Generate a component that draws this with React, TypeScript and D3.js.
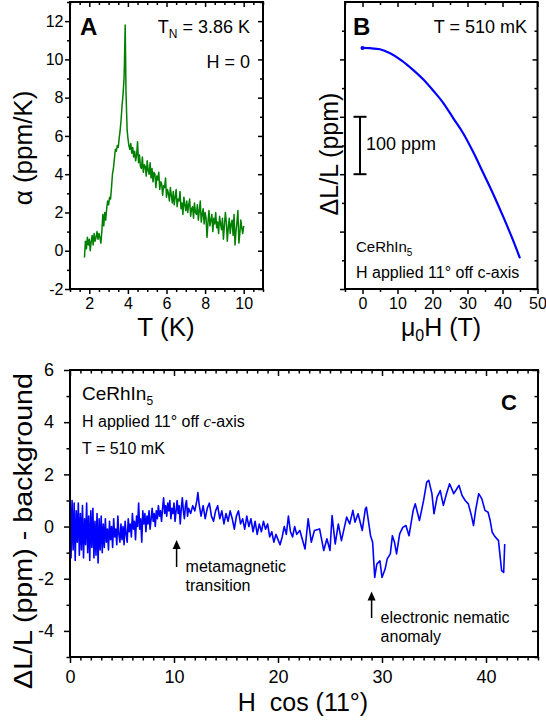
import React, { useRef, useEffect } from "react";
import * as d3 from "d3";

// ---- panel A: thermal expansion at H = 0 ----
const tempA = [
  1.75, 1.8, 1.85, 1.9, 1.95, 2.0, 2.05, 2.1, 2.15, 2.2, 2.25, 2.3, 2.35, 2.4, 2.45, 2.5, 2.55, 2.6, 2.65, 2.7,
  2.75, 2.8, 2.85, 2.9, 2.95, 3.0, 3.05, 3.1, 3.15, 3.2, 3.25, 3.3, 3.35, 3.4, 3.45, 3.5, 3.55, 3.6, 3.65, 3.7,
  3.75, 3.8, 3.82, 3.84, 3.86, 3.88, 3.9, 3.93, 3.96, 4.0, 4.05, 4.1, 4.15, 4.2, 4.25, 4.3, 4.35, 4.4, 4.45, 4.5,
  4.55, 4.6, 4.65, 4.7, 4.75, 4.8, 4.85, 4.9, 4.95, 5.0, 5.05, 5.1, 5.15, 5.2, 5.25, 5.3, 5.35, 5.4, 5.45, 5.5,
  5.55, 5.6, 5.65, 5.7, 5.75, 5.8, 5.85, 5.9, 5.95, 6.0, 6.05, 6.1, 6.15, 6.2, 6.25, 6.3, 6.35, 6.4, 6.45, 6.5,
  6.55, 6.6, 6.65, 6.7, 6.75, 6.8, 6.85, 6.9, 6.95, 7.0, 7.05, 7.1, 7.15, 7.2, 7.25, 7.3, 7.35, 7.4, 7.45, 7.5,
  7.55, 7.6, 7.65, 7.7, 7.75, 7.8, 7.85, 7.9, 7.95, 8.0, 8.05, 8.1, 8.15, 8.2, 8.25, 8.3, 8.35, 8.4, 8.45, 8.5,
  8.55, 8.6, 8.65, 8.7, 8.75, 8.8, 8.85, 8.9, 8.95, 9.0, 9.05, 9.1, 9.15, 9.2, 9.25, 9.3, 9.35, 9.4, 9.45, 9.5,
  9.55, 9.6, 9.65, 9.7, 9.75, 9.8, 9.85, 9.9, 9.95, 10.0,
];
const alphaA = [
  -0.35, 0.5, 0.1, 0.7, 0.3, 0.6, 0.0, 0.5, 0.8, 0.3, 0.9, 0.5, 0.7, 1.0, 0.6, 0.9, 0.7, 0.4, 1.0, 1.9,
  1.3, 2.0, 1.6, 2.2, 2.6, 2.4, 2.8, 2.7, 3.3, 4.0, 4.3, 4.8, 5.3, 5.2, 5.5, 5.4, 5.9, 6.3, 6.9, 7.6,
  8.2, 9.0, 9.8, 10.8, 11.8, 10.2, 8.4, 7.3, 6.3, 5.9, 5.5, 5.3, 5.6, 5.1, 5.4, 4.9, 5.2, 4.7, 5.0, 5.7,
  4.6, 5.0, 4.4, 4.3, 4.9, 4.1, 4.5, 4.4, 3.9, 4.7, 4.2, 4.0, 4.6, 3.8, 4.3, 3.6, 4.1, 4.0, 3.3, 3.9,
  3.7, 4.1, 3.2, 3.6, 3.5, 2.9, 3.4, 3.3, 3.8, 2.8, 3.2, 3.0, 2.6, 3.3, 2.9, 2.5, 3.1, 2.4, 2.8, 3.2,
  2.3, 2.7, 2.6, 3.1, 2.2, 2.5, 1.9, 2.8, 2.4, 2.1, 2.6, 2.0, 2.4, 2.7, 1.8, 2.2, 2.3, 1.7, 2.5, 2.0,
  1.9, 2.4, 1.6, 2.1, 2.6, 1.5, 1.9, 2.2, 1.4, 2.0, 1.7, 0.7, 1.5, 2.1, 1.3, 1.6, 1.9, 1.0, 1.7, 1.4,
  2.0, 1.2, 1.5, 0.9, 1.8, 1.4, 1.1, 1.7, 0.6, 1.3, 2.0, 1.5, 0.5, 1.2, 1.7, 0.9, 1.4, 1.6, 0.8, 1.9,
  0.3, 1.0, 1.5, 2.1, 0.4, 0.9, 1.6, 1.2, 0.9, 1.3,
];

// ---- panel B: magnetostriction, T = 510 mK ----
const fieldB = [0, 2.2, 5, 7.9, 11.2, 14.6, 17.4, 20.3, 23.1, 26, 28.8, 31.6, 34.5, 37.3, 40.2, 43, 44.9];
const strainB = [0, -0.5, -2.4, -9.4, -22, -39, -55, -75, -96, -123, -149, -181, -218, -254, -294, -335, -365];
const scaleBarB = [-120, -220]; // 100 ppm

// ---- panel C: background subtracted ----
const fieldC = [
  0.0, 0.1, 0.2, 0.3, 0.4, 0.5, 0.6, 0.7, 0.8, 0.9, 1.0, 1.1, 1.2, 1.3, 1.4, 1.5, 1.6, 1.7, 1.8, 1.9,
  2.0, 2.1, 2.2, 2.3, 2.4, 2.5, 2.6, 2.7, 2.8, 2.9, 3.0, 3.1, 3.2, 3.3, 3.4, 3.5, 3.6, 3.7, 3.8, 3.9,
  4.0, 4.1, 4.2, 4.3, 4.4, 4.5, 4.6, 4.7, 4.8, 4.9, 5.0, 5.1, 5.2, 5.3, 5.4, 5.5, 5.6, 5.7, 5.8, 5.9,
  6.0, 6.1, 6.2, 6.3, 6.4, 6.5, 6.6, 6.7, 6.8, 6.9, 7.0, 7.1, 7.2, 7.3, 7.4, 7.5, 7.6, 7.7, 7.8, 7.9,
  8.0, 8.1, 8.2, 8.3, 8.4, 8.5, 8.6, 8.7, 8.8, 8.9, 9.0, 9.1, 9.2, 9.3, 9.4, 9.5, 9.6, 9.7, 9.8, 9.9,
  10.0, 10.1, 10.2, 10.3, 10.4, 10.5, 10.6, 10.7, 10.8, 10.9, 11.0, 11.1, 11.2, 11.3, 11.4,
  11.6, 11.8, 12.0, 12.2, 12.3, 12.4, 12.6, 12.8, 13.0, 13.2, 13.4, 13.6, 13.8, 14.0, 14.2, 14.4, 14.6, 14.8,
  15.0, 15.2, 15.4, 15.6, 15.8, 16.0, 16.2, 16.4, 16.6, 16.8, 17.0, 17.2, 17.4, 17.6, 17.8, 18.0, 18.2, 18.4,
  18.6, 18.8, 19.0, 19.2, 19.4, 19.6, 19.8, 20.0, 20.2, 20.4, 20.6, 20.8, 21.0, 21.2, 21.4, 21.6, 21.8,
  22.1, 22.6, 22.9, 23.2, 23.5, 24.0, 24.4, 24.7, 25.0, 25.2, 25.5, 25.8, 26.1, 26.6, 26.9, 27.2, 27.4, 27.7,
  28.1, 28.4, 28.5, 28.9, 29.1, 29.3, 29.5, 29.8, 30.0, 30.3, 30.5, 30.8, 31.0, 31.2, 31.4, 31.7, 32.0, 32.3,
  32.6, 33.0, 33.2, 33.6, 34.0, 34.3, 34.5, 34.8, 35.0, 35.3, 35.6, 35.9, 36.2, 36.5, 36.9, 37.2, 37.4, 37.7,
  38.0, 38.3, 38.6, 38.8, 39.0, 39.3, 39.6, 39.9, 40.2, 40.4, 40.6, 40.8, 41.2, 41.3, 41.5, 41.7, 41.8,
];
const residC = [
  1.5, -1.2, 1.0, -0.9, 0.9, -1.3, 0.6, -0.6, 0.9, -1.1, 0.5, -0.9, 0.8, -1.2, 0.3, -0.7, 0.9, -1.0, 0.4, -1.3,
  0.6, -0.8, 0.7, -1.2, 0.2, -1.1, 0.5, -1.4, 0.3, -0.9, 0.4, -1.0, 0.1, -0.8, 0.3, -0.6, -0.1, -0.9, 0.2, -0.5,
  0.0, -0.8, 0.3, -0.4, -0.1, -0.7, 0.4, -0.3, -0.6, 0.1, -0.5, 0.0, -0.7, 0.2, -0.3, -0.6, 0.3, -0.2, 0.1, -0.4,
  0.5, -0.1, 0.2, -0.5, 0.4, 0.0, 0.9, -0.1, 0.3, -0.6, 0.6, 0.1, 0.5, -0.2, 0.4, 0.1, 0.6, -0.1, 0.3, 0.7,
  0.2, 0.5, 0.0, 0.6, 0.3, 0.8, 0.4, 0.6, 0.2, 0.7, 1.1, 0.5, 0.8, 0.4, 0.9, 0.6, 1.0, 0.3, 0.7, 0.5,
  0.9, 0.2, 0.6, 1.0, 0.5, 0.8, 0.1, 0.7, 1.1, 0.6, 0.3, 0.8, 1.0, 0.4, 0.7,
  0.5, 0.8, 0.6, 1.0, 1.3, 0.9, 0.4, 0.8, 0.3, 0.7, 0.9, 0.4, 0.2, 0.6, 0.8, 0.3, 0.6, 0.1,
  0.5, 0.2, 0.6, 0.3, -0.1, 0.4, 0.6, 0.1, 0.3, -0.1, 0.4, 0.0, 0.3, -0.2, 0.2, -0.3, 0.1, -0.2,
  0.2, -0.1, 0.1, -0.4, -0.2, -0.6, -0.3, -0.5, -0.7, -0.4, 0.0, -0.3, 0.4, -0.2, -0.4, 0.0, -0.3,
  -0.15, -0.86, 0.3, -0.6, -0.15, -0.09, -0.92, -0.47, -0.92, 0.42, -0.67, 0.1, -0.54, 0.36, 0.1, 0.62, 0.17, 0.49,
  -0.15, 0.68, 0.74, -0.35, -0.6, -1.95, -1.44, -1.31, -1.95, -1.63, -1.24, -1.05, -0.35, -0.6, -1.05, -0.28, -0.03, 0.04,
  -0.35, 0.62, 0.87, 0.23, 1.0, 1.7, 1.77, 1.26, 0.49, 1.13, 1.38, 0.81, 1.26, 1.64, 1.26, 1.45, 1.58, 1.19,
  1.0, 0.87, 0.42, 0.04, 0.62, 1.26, 1.06, 0.62, 0.55, 0.23, -0.22, -0.35, -0.54, -0.92, -1.69, -1.76, -0.67,
];

const ticksAx = [2, 4, 6, 8, 10];
const ticksAy = [-2, 0, 2, 4, 6, 8, 10, 12];
const ticksBx = [0, 10, 20, 30, 40, 50];
const ticksBy = [-420, -320, -220, -120, -20];
const ticksCx = [0, 10, 20, 30, 40];
const ticksCy = [-4, -2, 0, 2, 4, 6];

const FONT = "'Liberation Sans', Arial, Helvetica, sans-serif";

function drawAxes(g: any, x: any, y: any, o: any) {
  const [x0, x1] = x.range();
  const [yb, yt] = y.range();
  const put = (axis: any, tx: number, ty: number) => {
    const a = g.append("g").attr("transform", `translate(${tx},${ty})`).call(axis);
    a.select(".domain").remove();
    a.selectAll("line").attr("stroke", "#000").attr("stroke-width", 1.5);
    a.selectAll("text").attr("font-family", FONT).attr("font-size", o.font).attr("fill", "#000");
    return a;
  };
  const lab = (show: boolean) => (show ? (d: any) => String(d) : () => "");
  const none = () => "";
  // bottom & left: outward, labelled
  put(d3.axisBottom(x).tickValues(o.xMajor).tickSize(o.major).tickPadding(o.padX).tickFormat(lab(o.xLabels)), 0, yb);
  put(d3.axisBottom(x).tickValues(o.xMinor).tickSize(o.minor).tickFormat(none), 0, yb);
  put(d3.axisLeft(y).tickValues(o.yMajor).tickSize(o.major).tickPadding(o.padY).tickFormat(lab(o.yLabels)), x0, 0);
  put(d3.axisLeft(y).tickValues(o.yMinor).tickSize(o.minor).tickFormat(none), x0, 0);
  // top & right: inward mirror ticks
  put(d3.axisBottom(x).tickValues(o.xMajor).tickSize(o.major).tickFormat(none), 0, yt);
  put(d3.axisBottom(x).tickValues(o.xMinor).tickSize(o.minor).tickFormat(none), 0, yt);
  put(d3.axisLeft(y).tickValues(o.yMajor).tickSize(o.major).tickFormat(none), x1, 0);
  put(d3.axisLeft(y).tickValues(o.yMinor).tickSize(o.minor).tickFormat(none), x1, 0);
  g.append("rect")
    .attr("x", x0).attr("y", yt)
    .attr("width", x1 - x0).attr("height", yb - yt)
    .attr("fill", "none").attr("stroke", "#000").attr("stroke-width", 2);
}

function txt(g: any, x: number, y: number, s: string, size: number, anchor = "start", weight = "normal") {
  return g.append("text")
    .attr("x", x).attr("y", y)
    .attr("font-family", FONT).attr("font-size", size)
    .attr("font-weight", weight).attr("text-anchor", anchor)
    .attr("fill", "#000").text(s);
}

function vlabel(g: any, x: number, y: number, s: string, size: number, len?: number) {
  const t = g.append("text")
    .attr("transform", `translate(${x},${y}) rotate(-90)`)
    .attr("font-family", FONT).attr("font-size", size)
    .attr("text-anchor", "middle").attr("fill", "#000").text(s);
  if (len) t.attr("textLength", len).attr("lengthAdjust", "spacingAndGlyphs");
  return t;
}

const notMajor = (major: number[]) => (v: number) => !major.some((m) => Math.abs(m - v) < 1e-6);

export default function App() {
  const ref = useRef<SVGGElement>(null);

  useEffect(() => {
    const root = d3.select(ref.current);
    root.selectAll("*").remove();

    // ---------- A ----------
    const gA = root.append("g");
    const xA = d3.scaleLinear().domain([1, 11]).range([70, 263]);
    const yA = d3.scaleLinear().domain([-2, 13]).range([289, 2]);
    gA.append("path")
      .datum(tempA.map((t, i) => [t, alphaA[i]]))
      .attr("fill", "none").attr("stroke", "#008000").attr("stroke-width", 1.5)
      .attr("stroke-linejoin", "round")
      .attr("d", d3.line().x((d: any) => xA(d[0])).y((d: any) => yA(d[1])) as any);
    drawAxes(gA, xA, yA, {
      xMajor: ticksAx, xMinor: d3.range(1, 11.01, 0.5).filter(notMajor(ticksAx)),
      yMajor: ticksAy, yMinor: d3.range(-2, 13.01, 1).filter(notMajor(ticksAy)),
      xLabels: true, yLabels: true, major: 5, minor: 3, padX: 4, padY: 1.5, font: 16,
    });
    txt(gA, 80, 35, "A", 24, "start", "bold");
    const tn = txt(gA, 250, 33, "T", 18, "end");
    tn.append("tspan").attr("font-size", 12).attr("dy", 5).text("N");
    tn.append("tspan").attr("dy", -5).text(" = 3.86 K");
    txt(gA, 250, 68, "H = 0", 18, "end");
    txt(gA, 166, 336, "T (K)", 26, "middle");
    vlabel(gA, 32, 148, "α (ppm/K)", 26);

    // ---------- B ----------
    const gB = root.append("g");
    const xB = d3.scaleLinear().domain([-5, 50]).range([345, 537.5]);
    const yB = d3.scaleLinear().domain([-420, 80]).range([289, 2]);
    gB.append("path")
      .datum(fieldB.map((h, i) => [h, strainB[i]]))
      .attr("fill", "none").attr("stroke", "#0000ff").attr("stroke-width", 2.2)
      .attr("stroke-linecap", "round")
      .attr("d", d3.line().curve(d3.curveMonotoneX).x((d: any) => xB(d[0])).y((d: any) => yB(d[1])) as any);
    gB.append("circle").attr("cx", xB(fieldB[0])).attr("cy", yB(strainB[0])).attr("r", 2).attr("fill", "#0000ff");
    drawAxes(gB, xB, yB, {
      xMajor: ticksBx, xMinor: d3.range(-5, 50.01, 5).filter(notMajor(ticksBx)),
      yMajor: ticksBy, yMinor: [30, -70, -170, -270, -370],
      xLabels: true, yLabels: false, major: 5, minor: 3, padX: 4, padY: 2, font: 16,
    });
    // 100 ppm scale bar
    const sbx = 360;
    gB.append("line").attr("x1", sbx).attr("x2", sbx)
      .attr("y1", yB(scaleBarB[0])).attr("y2", yB(scaleBarB[1]))
      .attr("stroke", "#000").attr("stroke-width", 2);
    scaleBarB.forEach((v) => {
      gB.append("line").attr("x1", sbx - 6.5).attr("x2", sbx + 6.5)
        .attr("y1", yB(v)).attr("y2", yB(v)).attr("stroke", "#000").attr("stroke-width", 2);
    });
    txt(gB, 366, 150, "100 ppm", 18);
    txt(gB, 353, 35, "B", 24, "start", "bold");
    txt(gB, 527, 33, "T = 510 mK", 18, "end");
    const ceB = txt(gB, 356, 252, "CeRhIn", 15);
    ceB.append("tspan").attr("font-size", 10).attr("dy", 4).text("5");
    txt(gB, 356, 278, "H applied 11° off c-axis", 16);
    const muB = txt(gB, 441, 336, "μ", 25, "middle");
    muB.append("tspan").attr("font-size", 16).attr("dy", 5).text("0");
    muB.append("tspan").attr("dy", -5).text("H (T)");
    vlabel(gB, 338, 154, "ΔL/L (ppm)", 25);

    // ---------- C ----------
    const gC = root.append("g");
    const xC = d3.scaleLinear().domain([0, 45]).range([70, 538]);
    const yC = d3.scaleLinear().domain([-5, 6]).range([657, 370]);
    gC.append("path")
      .datum(fieldC.map((h, i) => [h, residC[i]]))
      .attr("fill", "none").attr("stroke", "#0000ff").attr("stroke-width", 1.6)
      .attr("stroke-linejoin", "round")
      .attr("d", d3.line().x((d: any) => xC(d[0])).y((d: any) => yC(d[1])) as any);
    drawAxes(gC, xC, yC, {
      xMajor: ticksCx, xMinor: d3.range(0, 45.01, 1).filter(notMajor(ticksCx)),
      yMajor: ticksCy, yMinor: d3.range(-5, 6.01, 1).filter(notMajor(ticksCy)),
      xLabels: true, yLabels: true, major: 6, minor: 3.5, padX: 7, padY: 10, font: 18,
    });
    txt(gC, 517, 410, "C", 22, "end", "bold");
    const ceC = txt(gC, 82, 400, "CeRhIn", 19);
    ceC.append("tspan").attr("font-size", 12).attr("dy", 5).text("5");
    const hC = txt(gC, 82, 427, "H applied 11° off ", 16);
    hC.append("tspan").attr("font-family", "'Liberation Serif', 'Times New Roman', serif")
      .attr("font-style", "italic").attr("font-size", 17).text("c");
    hC.append("tspan").text("-axis");
    txt(gC, 82, 454, "T = 510 mK", 16);

    // arrows
    const arrows = [
      { h: 10.25, tip: 540, tail: 567, lines: ["metamagnetic", "transition"], ty: 572 },
      { h: 29.0, tip: 591.5, tail: 618, lines: ["electronic nematic", "anomaly"], ty: 623 },
    ];
    arrows.forEach((a) => {
      const ax = xC(a.h);
      gC.append("line").attr("x1", ax).attr("x2", ax).attr("y1", a.tip + 6).attr("y2", a.tail)
        .attr("stroke", "#000").attr("stroke-width", 1.5);
      gC.append("path")
        .attr("d", `M${ax},${a.tip} L${ax - 4},${a.tip + 9} L${ax + 4},${a.tip + 9} Z`)
        .attr("fill", "#000");
      a.lines.forEach((s, i) => txt(gC, ax + 9, a.ty + i * 19, s, 16));
    });

    txt(gC, 303, 711, "H\u00A0\u00A0cos (11°)", 25, "middle");
    vlabel(gC, 32, 531, "ΔL/L (ppm) - background", 25, 316);
  }, []);

  return (
    <svg width={546} height={723} style={{ position: "absolute", left: 0, top: 0, background: "#fff" }}>
      <g ref={ref} />
    </svg>
  );
}
